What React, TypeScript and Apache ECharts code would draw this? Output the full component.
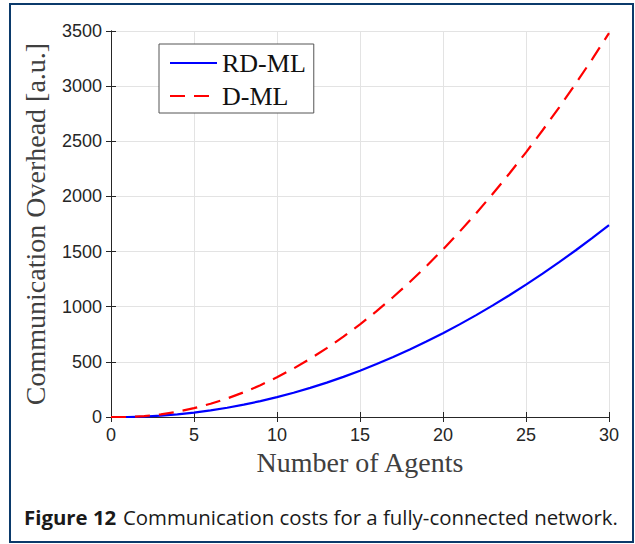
import React, { useEffect, useRef } from "react";
import * as echarts from "echarts";

const agents: number[] = [0,1,2,3,4,5,6,7,8,9,10,11,12,13,14,15,16,17,18,19,20,21,22,23,24,25,26,27,28,29,30];
const rdml: number[] = [0,0,4,12,24,40,60,84,112,144,180,220,264,312,364,420,480,544,612,684,760,840,924,1012,1104,1200,1300,1404,1512,1624,1740];
const dml: number[] = [0,0,8,24,48,80,120,168,224,288,360,440,528,624,728,840,960,1088,1224,1368,1520,1680,1848,2024,2208,2400,2600,2808,3024,3248,3480];
const seriesNames = ["RD-ML", "D-ML"];
const xTitle = "Number of Agents";
const yTitle = "Communication Overhead [a.u.]";
const captionBold = "Figure 12";
const captionText = "Communication costs for a fully-connected network.";

export default function App() {
  const ref = useRef<HTMLDivElement>(null);
  useEffect(() => {
    document.body.style.margin = "0";
    if (!ref.current) return;
    const chart = echarts.init(ref.current, undefined, { renderer: "svg" });
    const serif = "Liberation Serif";
    const sans = "Liberation Sans";
    const axisCol = "#262626";
    const gridCol = "#e3e3e3";
    const tickCommon = { show: true, inside: true, length: 5, lineStyle: { color: axisCol } };
    const plain = (v: number) => String(v);
    chart.setOption({
      animation: false,
      backgroundColor: "#ffffff",
      grid: { left: 111, top: 31, right: 26, bottom: 127, containLabel: false },
      legend: {
        left: 159,
        top: 44,
        orient: "vertical",
        data: seriesNames,
        backgroundColor: "#ffffff",
        borderColor: "#555555",
        borderWidth: 1,
        borderRadius: 0,
        padding: [5, 8, 3, 10],
        itemGap: 5,
        itemWidth: 47,
        itemHeight: 28,
        itemStyle: { opacity: 0 },
        textStyle: { fontFamily: serif, fontSize: 26, color: "#111", lineHeight: 28 },
      },
      xAxis: [
        {
          type: "value",
          min: 0,
          max: 30,
          interval: 5,
          name: xTitle,
          nameLocation: "middle",
          nameGap: 30,
          nameTextStyle: { fontFamily: serif, fontSize: 28, color: "#404040" },
          axisLine: { show: true, lineStyle: { color: axisCol } },
          axisTick: tickCommon,
          axisLabel: { fontFamily: sans, fontSize: 18, color: "#262626", margin: 9, formatter: plain },
          splitLine: { show: true, lineStyle: { color: gridCol } },
        },
        {
          type: "value",
          position: "top",
          min: 0,
          max: 30,
          interval: 5,
          axisLine: { show: true, lineStyle: { color: axisCol } },
          axisTick: tickCommon,
          axisLabel: { show: false },
          splitLine: { show: false },
        },
      ],
      yAxis: [
        {
          type: "value",
          min: 0,
          max: 3500,
          interval: 500,
          name: yTitle,
          nameLocation: "middle",
          nameGap: 62,
          nameTextStyle: { fontFamily: serif, fontSize: 28, color: "#404040" },
          axisLine: { show: true, lineStyle: { color: axisCol } },
          axisTick: tickCommon,
          axisLabel: { fontFamily: sans, fontSize: 18, color: "#262626", margin: 9, formatter: plain },
          splitLine: { show: true, lineStyle: { color: gridCol } },
        },
        {
          type: "value",
          position: "right",
          min: 0,
          max: 3500,
          interval: 500,
          axisLine: { show: true, lineStyle: { color: axisCol } },
          axisTick: tickCommon,
          axisLabel: { show: false },
          splitLine: { show: false },
        },
      ],
      series: [
        {
          name: seriesNames[0],
          type: "line",
          data: agents.map((a, i) => [a, rdml[i]]),
          showSymbol: false,
          symbol: "none",
          smooth: false,
          lineStyle: { color: "#0000ff", width: 2.2 },
          itemStyle: { color: "#0000ff" },
        },
        {
          name: seriesNames[1],
          type: "line",
          data: agents.map((a, i) => [a, dml[i]]),
          showSymbol: false,
          symbol: "none",
          smooth: false,
          lineStyle: { color: "#ff0000", width: 2.2, type: [15, 9] },
          itemStyle: { color: "#ff0000" },
        },
      ],
      graphic: [
        {
          type: "rect",
          shape: { x: 10, y: 4, width: 623, height: 538 },
          style: { fill: "none", stroke: "#0b3a6b", lineWidth: 2 },
          silent: true,
        },
        {
          type: "text",
          x: 24,
          y: 517,
          style: {
            text: `{b|${captionBold}}  {n|${captionText}}`,
            verticalAlign: "middle",
            rich: {
              b: { fontFamily: "Open Sans", fontWeight: "bold", fontSize: 20.4, fill: "#1a1a1a" },
              n: { fontFamily: "Open Sans", fontSize: 20.4, fill: "#1a1a1a" },
            },
          },
        },
      ],
    });
    return () => chart.dispose();
  }, []);
  return <div ref={ref} style={{ width: 635, height: 544 }} />;
}
